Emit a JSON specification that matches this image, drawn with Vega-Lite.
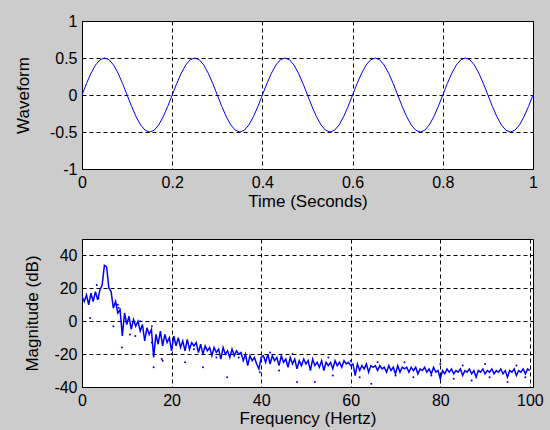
{
  "$schema": "https://vega.github.io/schema/vega-lite/v6.json",
  "background": "#cccccc",
  "padding": {"left": 13, "top": 12, "right": 14, "bottom": 12},
  "bounds": "flush",
  "spacing": 70,
  "config": {
    "view": {"stroke": "black", "strokeWidth": 1, "fill": "white"},
    "axis": {
      "labelFont": "Liberation Sans", "titleFont": "Liberation Sans",
      "labelFontSize": 16, "titleFontSize": 17, "titleFontWeight": "normal",
      "labelColor": "black", "titleColor": "black",
      "grid": true, "gridColor": "black", "gridDash": [4, 3], "gridOpacity": 1, "gridWidth": 1,
      "domain": false, "ticks": false, "tickSize": 0, "labelPadding": 5,
      "labelExpr": "toString(datum.value)", "labelOverlap": false, "labelFlush": false
    }
  },
  "datasets": {
    "wave": [
      {"t":0,"v":0},{"t":0.01,"v":0.155},{"t":0.02,"v":0.294},{"t":0.03,"v":0.405},{"t":0.04,"v":0.476},{"t":0.05,"v":0.5},{"t":0.06,"v":0.476},{"t":0.07,"v":0.405},{"t":0.08,"v":0.294},{"t":0.09,"v":0.155},
      {"t":0.1,"v":0},{"t":0.11,"v":-0.155},{"t":0.12,"v":-0.294},{"t":0.13,"v":-0.405},{"t":0.14,"v":-0.476},{"t":0.15,"v":-0.5},{"t":0.16,"v":-0.476},{"t":0.17,"v":-0.405},{"t":0.18,"v":-0.294},{"t":0.19,"v":-0.155},
      {"t":0.2,"v":0},{"t":0.21,"v":0.155},{"t":0.22,"v":0.294},{"t":0.23,"v":0.405},{"t":0.24,"v":0.476},{"t":0.25,"v":0.5},{"t":0.26,"v":0.476},{"t":0.27,"v":0.405},{"t":0.28,"v":0.294},{"t":0.29,"v":0.155},
      {"t":0.3,"v":0},{"t":0.31,"v":-0.155},{"t":0.32,"v":-0.294},{"t":0.33,"v":-0.405},{"t":0.34,"v":-0.476},{"t":0.35,"v":-0.5},{"t":0.36,"v":-0.476},{"t":0.37,"v":-0.405},{"t":0.38,"v":-0.294},{"t":0.39,"v":-0.155},
      {"t":0.4,"v":0},{"t":0.41,"v":0.155},{"t":0.42,"v":0.294},{"t":0.43,"v":0.405},{"t":0.44,"v":0.476},{"t":0.45,"v":0.5},{"t":0.46,"v":0.476},{"t":0.47,"v":0.405},{"t":0.48,"v":0.294},{"t":0.49,"v":0.155},
      {"t":0.5,"v":0},{"t":0.51,"v":-0.155},{"t":0.52,"v":-0.294},{"t":0.53,"v":-0.405},{"t":0.54,"v":-0.476},{"t":0.55,"v":-0.5},{"t":0.56,"v":-0.476},{"t":0.57,"v":-0.405},{"t":0.58,"v":-0.294},{"t":0.59,"v":-0.155},
      {"t":0.6,"v":0},{"t":0.61,"v":0.155},{"t":0.62,"v":0.294},{"t":0.63,"v":0.405},{"t":0.64,"v":0.476},{"t":0.65,"v":0.5},{"t":0.66,"v":0.476},{"t":0.67,"v":0.405},{"t":0.68,"v":0.294},{"t":0.69,"v":0.155},
      {"t":0.7,"v":0},{"t":0.71,"v":-0.155},{"t":0.72,"v":-0.294},{"t":0.73,"v":-0.405},{"t":0.74,"v":-0.476},{"t":0.75,"v":-0.5},{"t":0.76,"v":-0.476},{"t":0.77,"v":-0.405},{"t":0.78,"v":-0.294},{"t":0.79,"v":-0.155},
      {"t":0.8,"v":0},{"t":0.81,"v":0.155},{"t":0.82,"v":0.294},{"t":0.83,"v":0.405},{"t":0.84,"v":0.476},{"t":0.85,"v":0.5},{"t":0.86,"v":0.476},{"t":0.87,"v":0.405},{"t":0.88,"v":0.294},{"t":0.89,"v":0.155},
      {"t":0.9,"v":0},{"t":0.91,"v":-0.155},{"t":0.92,"v":-0.294},{"t":0.93,"v":-0.405},{"t":0.94,"v":-0.476},{"t":0.95,"v":-0.5},{"t":0.96,"v":-0.476},{"t":0.97,"v":-0.405},{"t":0.98,"v":-0.294},{"t":0.99,"v":-0.155},
      {"t":1,"v":0}
    ],
    "spec": [
      {"f":0,"m":15},{"f":0.5,"m":12},{"f":1,"m":16},{"f":1.5,"m":10},{"f":2,"m":17},{"f":2.5,"m":12},{"f":3,"m":18},{"f":3.5,"m":13},{"f":4,"m":19},{"f":4.5,"m":22},
      {"f":5,"m":34},{"f":5.5,"m":33},{"f":6,"m":20},{"f":6.5,"m":18},{"f":7,"m":8},{"f":7.5,"m":12},{"f":8,"m":5},{"f":8.5,"m":7},{"f":9,"m":-9},{"f":9.5,"m":5},
      {"f":10,"m":-2},{"f":10.5,"m":3},{"f":11,"m":-5},{"f":11.5,"m":1},{"f":12,"m":-3},{"f":12.5,"m":0},{"f":13,"m":-6},{"f":13.5,"m":-2},{"f":14,"m":-12},{"f":14.5,"m":-4},
      {"f":15,"m":-8},{"f":15.5,"m":-5},{"f":16,"m":-22},{"f":16.5,"m":-8},{"f":17,"m":-14},{"f":17.5,"m":-6},{"f":18,"m":-15},{"f":18.5,"m":-8},{"f":19,"m":-13},{"f":19.5,"m":-10},
      {"f":20,"m":-18},{"f":20.5,"m":-9},{"f":21,"m":-15},{"f":21.5,"m":-10},{"f":22,"m":-16},{"f":22.5,"m":-12},{"f":23,"m":-18},{"f":23.5,"m":-11},{"f":24,"m":-17},{"f":24.5,"m":-13},
      {"f":25,"m":-15},{"f":25.5,"m":-13},{"f":26,"m":-19},{"f":26.5,"m":-14},{"f":27,"m":-20},{"f":27.5,"m":-15},{"f":28,"m":-18},{"f":28.5,"m":-16},{"f":29,"m":-21},{"f":29.5,"m":-16},
      {"f":30,"m":-19},{"f":30.5,"m":-17},{"f":31,"m":-23},{"f":31.5,"m":-16},{"f":32,"m":-20},{"f":32.5,"m":-18},{"f":33,"m":-22},{"f":33.5,"m":-17},{"f":34,"m":-21},{"f":34.5,"m":-18},
      {"f":35,"m":-20},{"f":35.5,"m":-19},{"f":36,"m":-24},{"f":36.5,"m":-20},{"f":37,"m":-27},{"f":37.5,"m":-21},{"f":38,"m":-24},{"f":38.5,"m":-22},{"f":39,"m":-26},{"f":39.5,"m":-29},
      {"f":40,"m":-22},{"f":40.5,"m":-21},{"f":41,"m":-25},{"f":41.5,"m":-20},{"f":42,"m":-26},{"f":42.5,"m":-21},{"f":43,"m":-24},{"f":43.5,"m":-22},{"f":44,"m":-27},{"f":44.5,"m":-21},
      {"f":45,"m":-25},{"f":45.5,"m":-23},{"f":46,"m":-28},{"f":46.5,"m":-22},{"f":47,"m":-26},{"f":47.5,"m":-23},{"f":48,"m":-29},{"f":48.5,"m":-24},{"f":49,"m":-27},{"f":49.5,"m":-23},
      {"f":50,"m":-26},{"f":50.5,"m":-24},{"f":51,"m":-30},{"f":51.5,"m":-23},{"f":52,"m":-27},{"f":52.5,"m":-25},{"f":53,"m":-28},{"f":53.5,"m":-24},{"f":54,"m":-30},{"f":54.5,"m":-25},
      {"f":55,"m":-27},{"f":55.5,"m":-25},{"f":56,"m":-29},{"f":56.5,"m":-24},{"f":57,"m":-27},{"f":57.5,"m":-25},{"f":58,"m":-28},{"f":58.5,"m":-24},{"f":59,"m":-26},{"f":59.5,"m":-25},
      {"f":60,"m":-27},{"f":60.5,"m":-26},{"f":61,"m":-33},{"f":61.5,"m":-26},{"f":62,"m":-30},{"f":62.5,"m":-27},{"f":63,"m":-29},{"f":63.5,"m":-26},{"f":64,"m":-31},{"f":64.5,"m":-27},
      {"f":65,"m":-28},{"f":65.5,"m":-27},{"f":66,"m":-30},{"f":66.5,"m":-27},{"f":67,"m":-29},{"f":67.5,"m":-28},{"f":68,"m":-31},{"f":68.5,"m":-27},{"f":69,"m":-30},{"f":69.5,"m":-28},
      {"f":70,"m":-32},{"f":70.5,"m":-27},{"f":71,"m":-31},{"f":71.5,"m":-28},{"f":72,"m":-29},{"f":72.5,"m":-28},{"f":73,"m":-31},{"f":73.5,"m":-28},{"f":74,"m":-30},{"f":74.5,"m":-28},
      {"f":75,"m":-32},{"f":75.5,"m":-29},{"f":76,"m":-30},{"f":76.5,"m":-28},{"f":77,"m":-31},{"f":77.5,"m":-29},{"f":78,"m":-32},{"f":78.5,"m":-28},{"f":79,"m":-31},{"f":79.5,"m":-30},
      {"f":80,"m":-35},{"f":80.5,"m":-30},{"f":81,"m":-32},{"f":81.5,"m":-29},{"f":82,"m":-31},{"f":82.5,"m":-29},{"f":83,"m":-32},{"f":83.5,"m":-30},{"f":84,"m":-31},{"f":84.5,"m":-29},
      {"f":85,"m":-33},{"f":85.5,"m":-30},{"f":86,"m":-31},{"f":86.5,"m":-29},{"f":87,"m":-32},{"f":87.5,"m":-30},{"f":88,"m":-34},{"f":88.5,"m":-30},{"f":89,"m":-31},{"f":89.5,"m":-29},
      {"f":90,"m":-32},{"f":90.5,"m":-30},{"f":91,"m":-31},{"f":91.5,"m":-29},{"f":92,"m":-32},{"f":92.5,"m":-30},{"f":93,"m":-31},{"f":93.5,"m":-29},{"f":94,"m":-32},{"f":94.5,"m":-30},
      {"f":95,"m":-34},{"f":95.5,"m":-30},{"f":96,"m":-31},{"f":96.5,"m":-29},{"f":97,"m":-33},{"f":97.5,"m":-30},{"f":98,"m":-31},{"f":98.5,"m":-29},{"f":99,"m":-32},{"f":99.5,"m":-29},
      {"f":100,"m":-30}
    ],
    "dots": [
      {"f":1.8,"m":2},{"f":3.3,"m":22},{"f":3.7,"m":14},{"f":7,"m":-3},{"f":8,"m":10},{"f":8.2,"m":8},{"f":8.9,"m":-16},{"f":10.7,"m":-8},
      {"f":11.9,"m":-9},{"f":13,"m":0},{"f":15.6,"m":-3},{"f":15.6,"m":-13},{"f":16,"m":-28},{"f":17.8,"m":-23},{"f":18,"m":-24},{"f":20,"m":-20},
      {"f":23,"m":-25},{"f":25,"m":-17},{"f":27,"m":-28},{"f":30,"m":-22},{"f":32.4,"m":-34},{"f":35,"m":-22},{"f":39.7,"m":-31},{"f":42,"m":-19},
      {"f":44,"m":-30},{"f":47,"m":-20},{"f":48,"m":-37},{"f":52,"m":-37},{"f":55,"m":-22},{"f":56,"m":-33},{"f":60,"m":-24},{"f":62,"m":-34},
      {"f":64.6,"m":-38},{"f":66,"m":-25},{"f":70,"m":-33},{"f":72,"m":-25},{"f":74,"m":-34},{"f":78,"m":-33},{"f":80,"m":-26},{"f":83,"m":-35},
      {"f":85,"m":-27},{"f":87,"m":-36},{"f":90,"m":-26},{"f":91,"m":-34},{"f":95,"m":-37},{"f":97,"m":-27},{"f":99,"m":-34}
    ]
  },
  "vconcat": [
    {
      "width": 451, "height": 148,
      "data": {"name": "wave"},
      "mark": {"type": "line", "color": "#0000ff", "strokeWidth": 1, "clip": true},
      "encoding": {
        "x": {"field": "t", "type": "quantitative", "scale": {"domain": [0, 1], "nice": false},
              "axis": {"title": "Time (Seconds)", "values": [0, 0.2, 0.4, 0.6, 0.8, 1], "titlePadding": 3}},
        "y": {"field": "v", "type": "quantitative", "scale": {"domain": [-1, 1], "nice": false},
              "axis": {"title": "Waveform", "values": [-1, -0.5, 0, 0.5, 1], "titlePadding": 17}}
      }
    },
    {
      "width": 451, "height": 148,
      "encoding": {
        "x": {"field": "f", "type": "quantitative", "scale": {"domain": [0, 100.7], "nice": false},
              "axis": {"title": "Frequency (Hertz)", "values": [0, 20, 40, 60, 80, 100], "titlePadding": 2}},
        "y": {"field": "m", "type": "quantitative", "scale": {"domain": [-40, 50], "nice": false},
              "axis": {"title": "Magnitude (dB)", "values": [-40, -20, 0, 20, 40], "titlePadding": 12}}
      },
      "layer": [
        {
          "data": {"name": "spec"},
          "mark": {"type": "line", "color": "#0000ff", "strokeWidth": 1.5, "clip": true}
        },
        {
          "data": {"name": "dots"},
          "mark": {"type": "point", "filled": true, "color": "#0000ff", "size": 4, "opacity": 1, "clip": true}
        }
      ]
    }
  ]
}
